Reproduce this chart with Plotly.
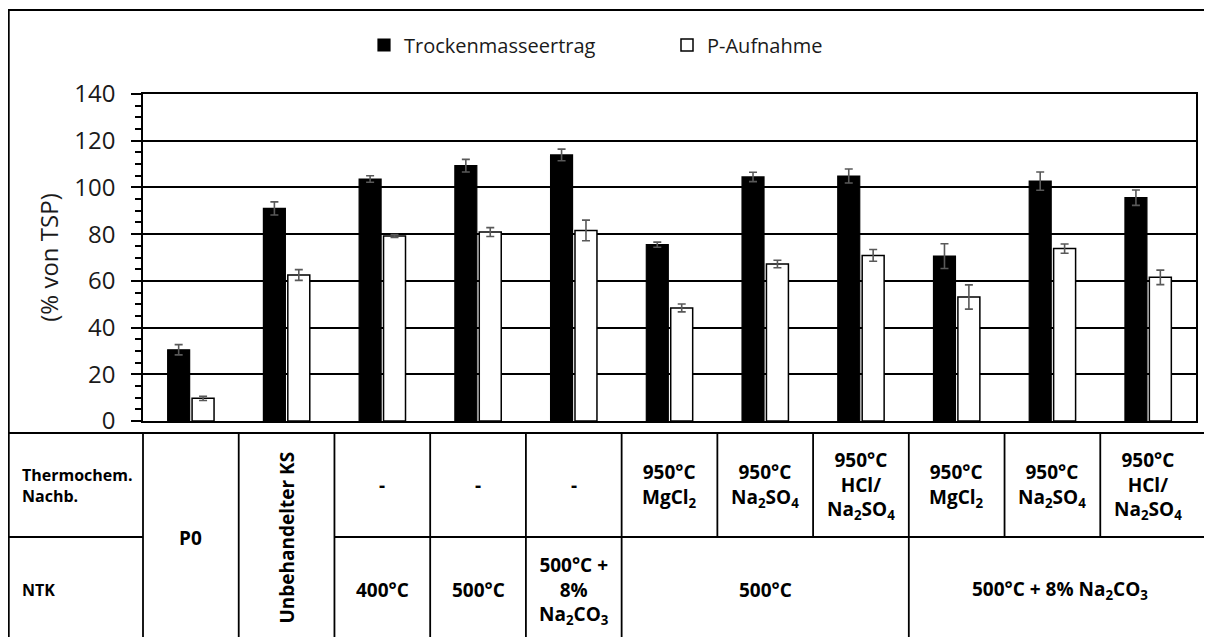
import plotly.graph_objects as go

# ---------------- data ----------------
categories = ["P0", "Unbehandelter KS", "400°C", "500°C", "500°C + 8% Na2CO3",
              "500°C / 950°C MgCl2", "500°C / 950°C Na2SO4", "500°C / 950°C HCl/Na2SO4",
              "500°C + 8% Na2CO3 / 950°C MgCl2", "500°C + 8% Na2CO3 / 950°C Na2SO4",
              "500°C + 8% Na2CO3 / 950°C HCl/Na2SO4"]
tm_values = [30.5, 91.0, 103.6, 109.3, 113.9, 75.5, 104.5, 104.9, 70.6, 102.7, 95.6]
tm_errors = [2.2, 2.8, 1.4, 2.7, 2.5, 1.1, 2.0, 3.0, 5.3, 3.9, 3.3]
p_values = [9.7, 62.5, 79.2, 80.9, 81.6, 48.4, 67.2, 70.9, 53.1, 73.8, 61.5]
p_errors = [0.9, 2.3, 0.6, 1.9, 4.4, 1.7, 1.6, 2.5, 5.2, 2.0, 3.1]

series_names = ["Trockenmasseertrag", "P-Aufnahme"]
y_ticks = [0, 20, 40, 60, 80, 100, 120, 140]
y_title = "(% von TSP)"

# table below the chart
row_labels = ["Thermochem.<br>Nachb.", "NTK"]
merged_cells = [("P0", 0, False), ("Unbehandelter KS", 1, True)]  # span both rows
thermo_row = [(2, "-"), (3, "-"), (4, "-"),
              (5, "950°C<br>MgCl<sub>2</sub>"),
              (6, "950°C<br>Na<sub>2</sub>SO<sub>4</sub>"),
              (7, "950°C<br>HCl/<br>Na<sub>2</sub>SO<sub>4</sub>"),
              (8, "950°C<br>MgCl<sub>2</sub>"),
              (9, "950°C<br>Na<sub>2</sub>SO<sub>4</sub>"),
              (10, "950°C<br>HCl/<br>Na<sub>2</sub>SO<sub>4</sub>")]
ntk_groups = [("400°C", 2, 2), ("500°C", 3, 3),
              ("500°C +<br>8%<br>Na<sub>2</sub>CO<sub>3</sub>", 4, 4),
              ("500°C", 5, 7),
              ("500°C + 8% Na<sub>2</sub>CO<sub>3</sub>", 8, 10)]

# ---------------- figure ----------------
OFF = 8                      # page offset of the plot div (body margin)
W, H = 1204, 629
ML, MR, MT, MB = 135, 16, 86, 216
PW, PH = W - ML - MR, H - MT - MB
n = len(categories)
xs = list(range(n))

FONT = "Open Sans"
TXT = "#1a1a1a"

def py(p):   # page pixel y -> paper y
    return (H - MB - (p - OFF)) / PH

def px(p):   # page pixel x -> paper x
    return (p - OFF - ML) / PW

def bx(b):   # boundary after category b -> paper x
    return (b + 1) / n

fig = go.Figure()
fig.add_trace(go.Bar(
    x=xs, y=tm_values, name=series_names[0],
    marker=dict(color="black", line=dict(color="black", width=1.2)),
    error_y=dict(type="data", array=tm_errors, visible=True,
                 color="#595959", thickness=1.6, width=4),
    hovertext=categories,
))
fig.add_trace(go.Bar(
    x=xs, y=p_values, name=series_names[1],
    marker=dict(color="white", line=dict(color="black", width=1.5)),
    error_y=dict(type="data", array=p_errors, visible=True,
                 color="#595959", thickness=1.6, width=4),
    hovertext=categories,
))

shapes = []
line = dict(color="black", width=1.8)
RIGHT = px(1260)
# outer frame (extends beyond right/bottom of the picture)
shapes.append(dict(type="rect", xref="paper", yref="paper",
                   x0=px(8.8), x1=RIGHT, y0=py(700), y1=py(10),
                   line=dict(color="black", width=1.8), layer="below"))
t_top, t_mid, t_bot = py(433), py(537), py(700)
shapes.append(dict(type="line", xref="paper", yref="paper",
                   x0=px(8), x1=RIGHT, y0=t_top, y1=t_top, line=line))
# middle line: left label column and the columns that are not merged
shapes.append(dict(type="line", xref="paper", yref="paper",
                   x0=px(8), x1=bx(-1), y0=t_mid, y1=t_mid, line=line))
shapes.append(dict(type="line", xref="paper", yref="paper",
                   x0=bx(1), x1=RIGHT, y0=t_mid, y1=t_mid, line=line))
# vertical lines
group_edges = {-1, 0, 1}
for _, a, b in ntk_groups:
    group_edges.add(a - 1)
    group_edges.add(b)
for b in range(-1, n - 1):
    y0 = t_bot if b in group_edges else t_mid
    shapes.append(dict(type="line", xref="paper", yref="paper",
                       x0=bx(b), x1=bx(b), y0=y0, y1=t_top, line=line))

ann = []
tfont = dict(family=FONT, size=19, color="black")
lfont = dict(family=FONT, size=16, color="black")
ann.append(dict(text="<b>" + row_labels[0] + "</b>", xref="paper", yref="paper",
                x=px(20), y=(t_top + t_mid) / 2, xanchor="left", yanchor="middle",
                align="left", showarrow=False, font=lfont))
ann.append(dict(text="<b>" + row_labels[1] + "</b>", xref="paper", yref="paper",
                x=px(20), y=py(590), xanchor="left", yanchor="middle",
                align="left", showarrow=False, font=lfont))
for label, i, rot in merged_cells:
    ann.append(dict(text="<b>" + label + "</b>", xref="x", yref="paper",
                    x=i, y=py(538), xanchor="center", yanchor="middle",
                    textangle=-90 if rot else 0, showarrow=False, font=tfont))
for i, label in thermo_row:
    ann.append(dict(text="<b>" + label + "</b>", xref="x", yref="paper",
                    x=i, y=(t_top + t_mid) / 2, xanchor="center", yanchor="middle",
                    align="center", showarrow=False, font=tfont))
for label, a, b in ntk_groups:
    xpos = (bx(a - 1) + bx(b)) / 2 if b < n - 1 else (bx(a - 1) + px(1212)) / 2
    ann.append(dict(text="<b>" + label + "</b>", xref="paper", yref="paper",
                    x=xpos, y=py(590), xanchor="center", yanchor="middle",
                    align="center", showarrow=False, font=tfont))

fig.update_layout(
    width=W, height=H,
    margin=dict(l=ML, r=MR, t=MT, b=MB, autoexpand=False),
    paper_bgcolor="white", plot_bgcolor="white",
    barmode="group", bargap=0.49, bargroupgap=0.1,
    font=dict(family=FONT, color=TXT),
    showlegend=True,
    legend=dict(orientation="h", x=px(364), y=py(45), xanchor="left", yanchor="middle",
                font=dict(family=FONT, size=20, color=TXT),
                entrywidth=258, entrywidthmode="pixels", traceorder="normal"),
    xaxis=dict(range=[-0.5, n - 0.5], showticklabels=False, ticks="",
               showgrid=False, zeroline=False, showline=True,
               linecolor="black", linewidth=2, mirror=True, fixedrange=True),
    yaxis=dict(range=[0, 140], tickvals=y_ticks, ticks="outside", ticklen=10,
               tickwidth=1.5, tickcolor="black",
               minor=dict(dtick=5, ticks="outside", ticklen=6, tickwidth=1.5,
                          tickcolor="black", showgrid=False),
               showgrid=True, gridcolor="black", gridwidth=1.5,
               zeroline=False, showline=True, linecolor="black", linewidth=1.5,
               mirror=True, ticklabelstandoff=11,
               tickfont=dict(family=FONT, size=24, color=TXT),
               title=dict(text=y_title, font=dict(family=FONT, size=24, color=TXT),
                          standoff=9),
               fixedrange=True),
    shapes=shapes, annotations=ann,
)

fig.write_html("out.html")
